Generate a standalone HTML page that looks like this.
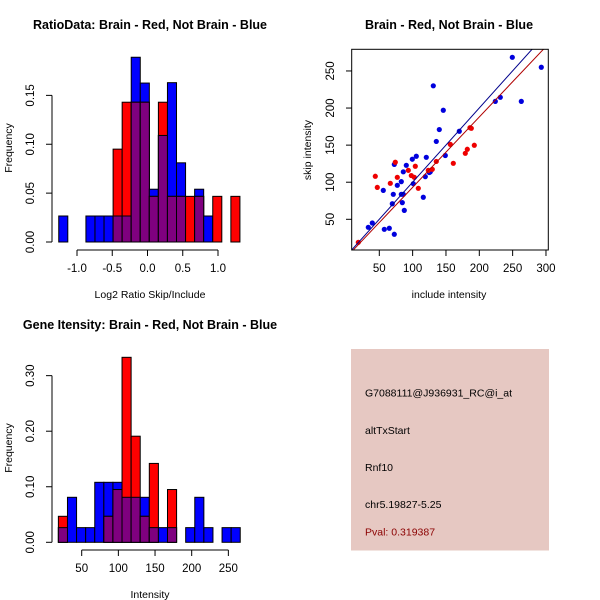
<!DOCTYPE html>
<html><head><meta charset="utf-8"><style>
body{margin:0;background:#fff}
svg{display:block;font-family:"Liberation Sans",sans-serif}
</style></head><body>
<svg id="c" width="600" height="600" xmlns="http://www.w3.org/2000/svg"></svg>
<script>
// ---- data: ratio histogram ----
const ratioStart = -1.259, ratioWidth = 0.1285;
const ratioBlue = [0.0266,0,0,0.0266,0.0266,0.0266,0.0266,0.0266,0.189,0.1626,0.054,0.109,0.163,0.081,0,0.054,0.0266,0,0,0];
const ratioRed  = [0,0,0,0,0,0,0.095,0.143,0.143,0.143,0.0467,0.143,0.0467,0.0467,0.0467,0.0467,0,0.0467,0,0.0467];
const ratioXTicks = [-1.0,-0.5,0.0,0.5,1.0];
const ratioYTicks = [0.00,0.05,0.10,0.15];
// ---- data: intensity histogram ----
const intStart = 18.2, intWidth = 12.4;
const intBlue = [0.0264,0.081,0.0264,0.0264,0.108,0.108,0.108,0.081,0.081,0.081,0.0264,0.0264,0.0264,0,0.0264,0.081,0.0264,0,0.0264,0.0264];
const intRed  = [0.0468,0,0,0,0,0.0468,0.095,0.333,0.191,0.0468,0.142,0,0.095,0,0,0,0,0,0,0];
const intXTicks = [50,100,150,200,250];
const intYTicks = [0.00,0.10,0.20,0.30];
// ---- data: scatter ----
const blueX = [33.5,39.5,57.5,65,72.5,56,71,69.5,77,72.5,83,83,84.5,86,87.5,86,90.5,99.5,101,105.5,119,120.5,125,126.5,116,131,135.5,140,146,149,170,224,231.5,249.5,263,293];
const blueY = [39.2,45,36.5,37.9,29.8,89,83.7,71,95.8,124,100.8,83.7,72.5,83.7,62,114,122.8,131,98,135,107.5,133.6,113,114,79.7,230,155,171,197,136,168.7,209,214.5,268.4,209,255];
const redX = [18.5,44,47,66.5,74,77,93.5,98,102.5,104,108.5,123.5,129.5,135.5,156.5,161,179,182,186,188,192.5];
const redY = [19,108,93,98.5,126.9,106.6,116,109,106.6,121.5,91.8,116,117.4,128,151,125.5,139,144.4,173.5,172.7,149.8];
const blueFit = [0.1, 1.0]; // intercept, slope
const redFit = [-1.8, 0.949];
const scatXTicks = [50,100,150,200,250,300];
const scatYTicks = [50,100,150,200,250];

const NS="http://www.w3.org/2000/svg";
const svg=document.getElementById('c');
function mk(tag,attrs,parent){const e=document.createElementNS(NS,tag);for(const k in attrs)e.setAttribute(k,attrs[k]);(parent||svg).appendChild(e);return e;}
function txt(s,x,y,opts,parent){const t=mk('text',Object.assign({x:x,y:y,'text-anchor':'middle','font-size':11.5,fill:'#000'},opts||{}),parent);t.textContent=s;return t;}

function histogram(name,sx,sy,start,width,blue,red,xt,yt,xfmt,yfmt,title,xlabel,axY,freqY,titleY){
  const g=mk('g',{});
  
  
  for(let i=0;i<blue.length;i++){
    const x0=sx(start+i*width),x1=sx(start+(i+1)*width);
    const layers=[[blue[i],'#0000ff'],[red[i],'#ff0000'],[Math.min(blue[i],red[i]),'#7f007f']];
    const names=['blue','red','overlap'];
    layers.forEach((l,j)=>{
      if(l[0]<=0)return;
      const r=mk('rect',{x:x0,y:sy(l[0]),width:x1-x0,height:sy(0)-sy(l[0]),fill:l[1],stroke:'#000','stroke-width':1},g);
      
      
    });
  }
  const yax=mk('g',{},g);
  
  
  mk('line',{x1:52,x2:52,y1:sy(yt[0]),y2:sy(yt[yt.length-1]),stroke:'#000'},yax);
  yt.forEach(v=>{mk('line',{x1:46,x2:52,y1:sy(v),y2:sy(v),stroke:'#000'},yax);
    txt(yfmt(v),34,sy(v),{transform:'rotate(-90 34 '+sy(v)+')'},yax);});
  const yl=txt('Frequency',12,freqY,{'font-size':10.5,transform:'rotate(-90 12 '+freqY+')'},g);
  
  
  const xax=mk('g',{},g);
  
  
  mk('line',{x1:sx(xt[0]),x2:sx(xt[xt.length-1]),y1:axY,y2:axY,stroke:'#000'},xax);
  xt.forEach(v=>{mk('line',{x1:sx(v),x2:sx(v),y1:axY,y2:axY+6,stroke:'#000'},xax);
    txt(xfmt(v),sx(v),axY+22,{},xax);});
  const xl=txt(xlabel,150,axY+48,{'font-size':10.5},g);
  
  
  const tt=txt(title,150,titleY,{'font-size':12.5,'font-weight':'bold'},g);
  
  
}

histogram('ratio-histogram',
  v=>77+(v+1)*70.5, v=>242-v*977.5,
  ratioStart,ratioWidth,ratioBlue,ratioRed,ratioXTicks,ratioYTicks,
  v=>v.toFixed(1),v=>v.toFixed(2),
  'RatioData: Brain - Red, Not Brain - Blue','Log2 Ratio Skip/Include',250,148,29);
histogram('intensity-histogram',
  v=>81.7+(v-50)*0.7333, v=>542.3-v*555.5,
  intStart,intWidth,intBlue,intRed,intXTicks,intYTicks,
  v=>String(v),v=>v.toFixed(2),
  'Gene Itensity: Brain - Red, Not Brain - Blue','Intensity',550,448,329);

(function(){
  const sx=v=>379.3+(v-50)*0.6667, sy=v=>219.3-(v-50)*0.7417;
  const g=mk('g',{});
  
  
  const tt=txt('Brain - Red, Not Brain - Blue',449,29,{'font-size':12.5,'font-weight':'bold'},g);
  
  
  const cp=mk('clipPath',{id:'clip'},g);mk('rect',{x:351.7,y:49.3,width:196.6,height:200.7},cp);
  [[blueX,blueY,'#0000dd','blue'],[redX,redY,'#ee0000','red']].forEach(s=>{
    s[0].forEach((x,i)=>{const c=mk('circle',{cx:sx(x),cy:sy(s[1][i]),r:2.6,fill:s[2]},g);
      
      });
  });
  [[blueFit,'#00008b','blue'],[redFit,'#b00000','red']].forEach(f=>{
    const l=mk('line',{x1:sx(0),y1:sy(f[0][0]),x2:sx(320),y2:sy(f[0][0]+f[0][1]*320),stroke:f[1],'stroke-width':1,'clip-path':'url(#clip)'},g);
    
    
  });
  mk('rect',{x:351.7,y:49.3,width:196.6,height:200.7,fill:'none',stroke:'#000'},g);
  const xa=mk('g',{},g);
  
  
  scatXTicks.forEach(v=>{mk('line',{x1:sx(v),x2:sx(v),y1:250,y2:256,stroke:'#000'},xa);txt(String(v),sx(v),272,{},xa);});
  const ya=mk('g',{},g);
  
  
  scatYTicks.forEach(v=>{mk('line',{x1:346,x2:351.7,y1:sy(v),y2:sy(v),stroke:'#000'},ya);txt(String(v),334,sy(v),{transform:'rotate(-90 334 '+sy(v)+')'},ya);});
  const xl=txt('include intensity',449,298,{'font-size':10.5},g);
  
  
  const yl=txt('skip intensity',311,150,{'font-size':10.5,transform:'rotate(-90 311 150)'},g);
  
  
})();

(function(){
  const g=mk('g',{});
  
  
  mk('rect',{x:351,y:349,width:198,height:201.5,fill:'#e6c8c2'},g);
  const lines=[['G7088111@J936931_RC@i_at',396.7,'#000','probe-id'],['altTxStart',434,'#000','event-type'],['Rnf10',471,'#000','gene-name'],['chr5.19827-5.25',508,'#000','location'],['Pval: 0.319387',535.7,'#8b0000','p-value']];
  lines.forEach(l=>{const t=txt(l[0],365,l[1],{'text-anchor':'start','font-size':10.5,fill:l[2]},g);
    
    });
})();
</script>
</body></html>
